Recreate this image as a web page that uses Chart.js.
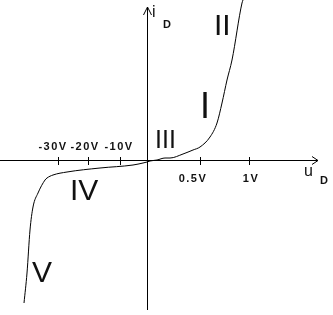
<!DOCTYPE html>
<html><head><meta charset="utf-8">
<script src="https://cdn.jsdelivr.net/npm/chart.js@4/dist/chart.umd.min.js"></script>
<style>html,body{margin:0;padding:0;background:#fff;}canvas{display:block;}</style>
</head><body>
<canvas id="c" width="333" height="315"></canvas>
<script>
// Diode characteristic (schematic units; origin at axes crossing)
const curveX = [-123,-120,-117,-114,-109,-102,-100,-94,-80,-47,-14,-4,0,3,10,18,23,36,46,53,63,70,75,80,85,95,96];
const curveY = [-143,-113,-70,-47,-33,-20,-18,-15,-12,-8,-5,-3,-2,-1,0,2,2,6,10,13,23,37,57,80,100,157,160];
const negTickPos = [-89,-59,-27];
const negTickLabels = ['-30V','-20V','-10V'];
const posTickPos = [53,102];
const posTickLabels = ['0.5V','1V'];
const regionLabels = ['II','I','III','IV','V'];
const regionPos = [[67,125],[53,42],[8,12],[-77,-40],[-115,-122]];
const regionSize = [30,36,25,30,30];
const negLabelShift = [-6,-4,-2];
const posLabelShift = [-8,1];

const axesPlugin = {
  id:'axes',
  afterDatasetsDraw(chart){
    const {ctx, scales:{x,y}} = chart;
    const ox = x.getPixelForValue(0), oy = y.getPixelForValue(0);
    ctx.save();
    ctx.strokeStyle='#000'; ctx.lineWidth=1; ctx.fillStyle='#111';
    ctx.beginPath();
    ctx.moveTo(0, oy+0.5); ctx.lineTo(x.getPixelForValue(171), oy+0.5);
    const xt = x.getPixelForValue(171);
    ctx.moveTo(xt-6, oy-3.5); ctx.lineTo(xt, oy+0.5); ctx.lineTo(xt-6, oy+4.5);
    const yt = y.getPixelForValue(153);
    ctx.moveTo(ox+0.5, yt); ctx.lineTo(ox+0.5, y.getPixelForValue(-150));
    ctx.moveTo(ox-3.5, yt+8); ctx.lineTo(ox+0.5, yt); ctx.lineTo(ox+4.5, yt+8);
    [...negTickPos, ...posTickPos].forEach(v=>{
      const px = Math.round(x.getPixelForValue(v))+0.5;
      ctx.moveTo(px, oy-3); ctx.lineTo(px, oy+5);
    });
    ctx.stroke();
    ctx.font = 'bold 11px "Liberation Sans", Arial, sans-serif';
    ctx.letterSpacing = '1.5px';
    ctx.textAlign='center'; ctx.textBaseline='alphabetic';
    negTickPos.forEach((v,i)=>{
      ctx.fillText(negTickLabels[i], x.getPixelForValue(v)+negLabelShift[i]+1, oy-10);
    });
    posTickPos.forEach((v,i)=>{
      ctx.fillText(posTickLabels[i], x.getPixelForValue(v)+posLabelShift[i]+1, oy+22);
    });
    ctx.letterSpacing = '0px';
    ctx.textAlign='left';
    ctx.font = '16px "Liberation Sans", Arial, sans-serif';
    ctx.fillText('u', x.getPixelForValue(157), oy+16);
    ctx.fillText('i', x.getPixelForValue(5), y.getPixelForValue(143));
    ctx.font = 'bold 11px "Liberation Sans", Arial, sans-serif';
    ctx.fillText('D', x.getPixelForValue(173), oy+24);
    ctx.fillText('D', x.getPixelForValue(16), y.getPixelForValue(132));
    regionLabels.forEach((t,i)=>{
      ctx.font = regionSize[i]+'px "Liberation Sans", Arial, sans-serif';
      ctx.fillText(t, x.getPixelForValue(regionPos[i][0]), y.getPixelForValue(regionPos[i][1]));
    });
    ctx.restore();
  }
};

new Chart(document.getElementById('c'), {
  type:'line',
  data:{ datasets:[{
    data: curveX.map((v,i)=>({x:v, y:curveY[i]})),
    borderColor:'#000', borderWidth:1, pointRadius:0,
    cubicInterpolationMode:'monotone', fill:false
  }]},
  options:{
    responsive:false, animation:false,
    layout:{padding:0},
    plugins:{legend:{display:false}, tooltip:{enabled:false}},
    scales:{
      x:{type:'linear', min:-147, max:186, display:false},
      y:{type:'linear', min:-155, max:160, display:false}
    }
  },
  plugins:[axesPlugin]
});
</script>
</body></html>
